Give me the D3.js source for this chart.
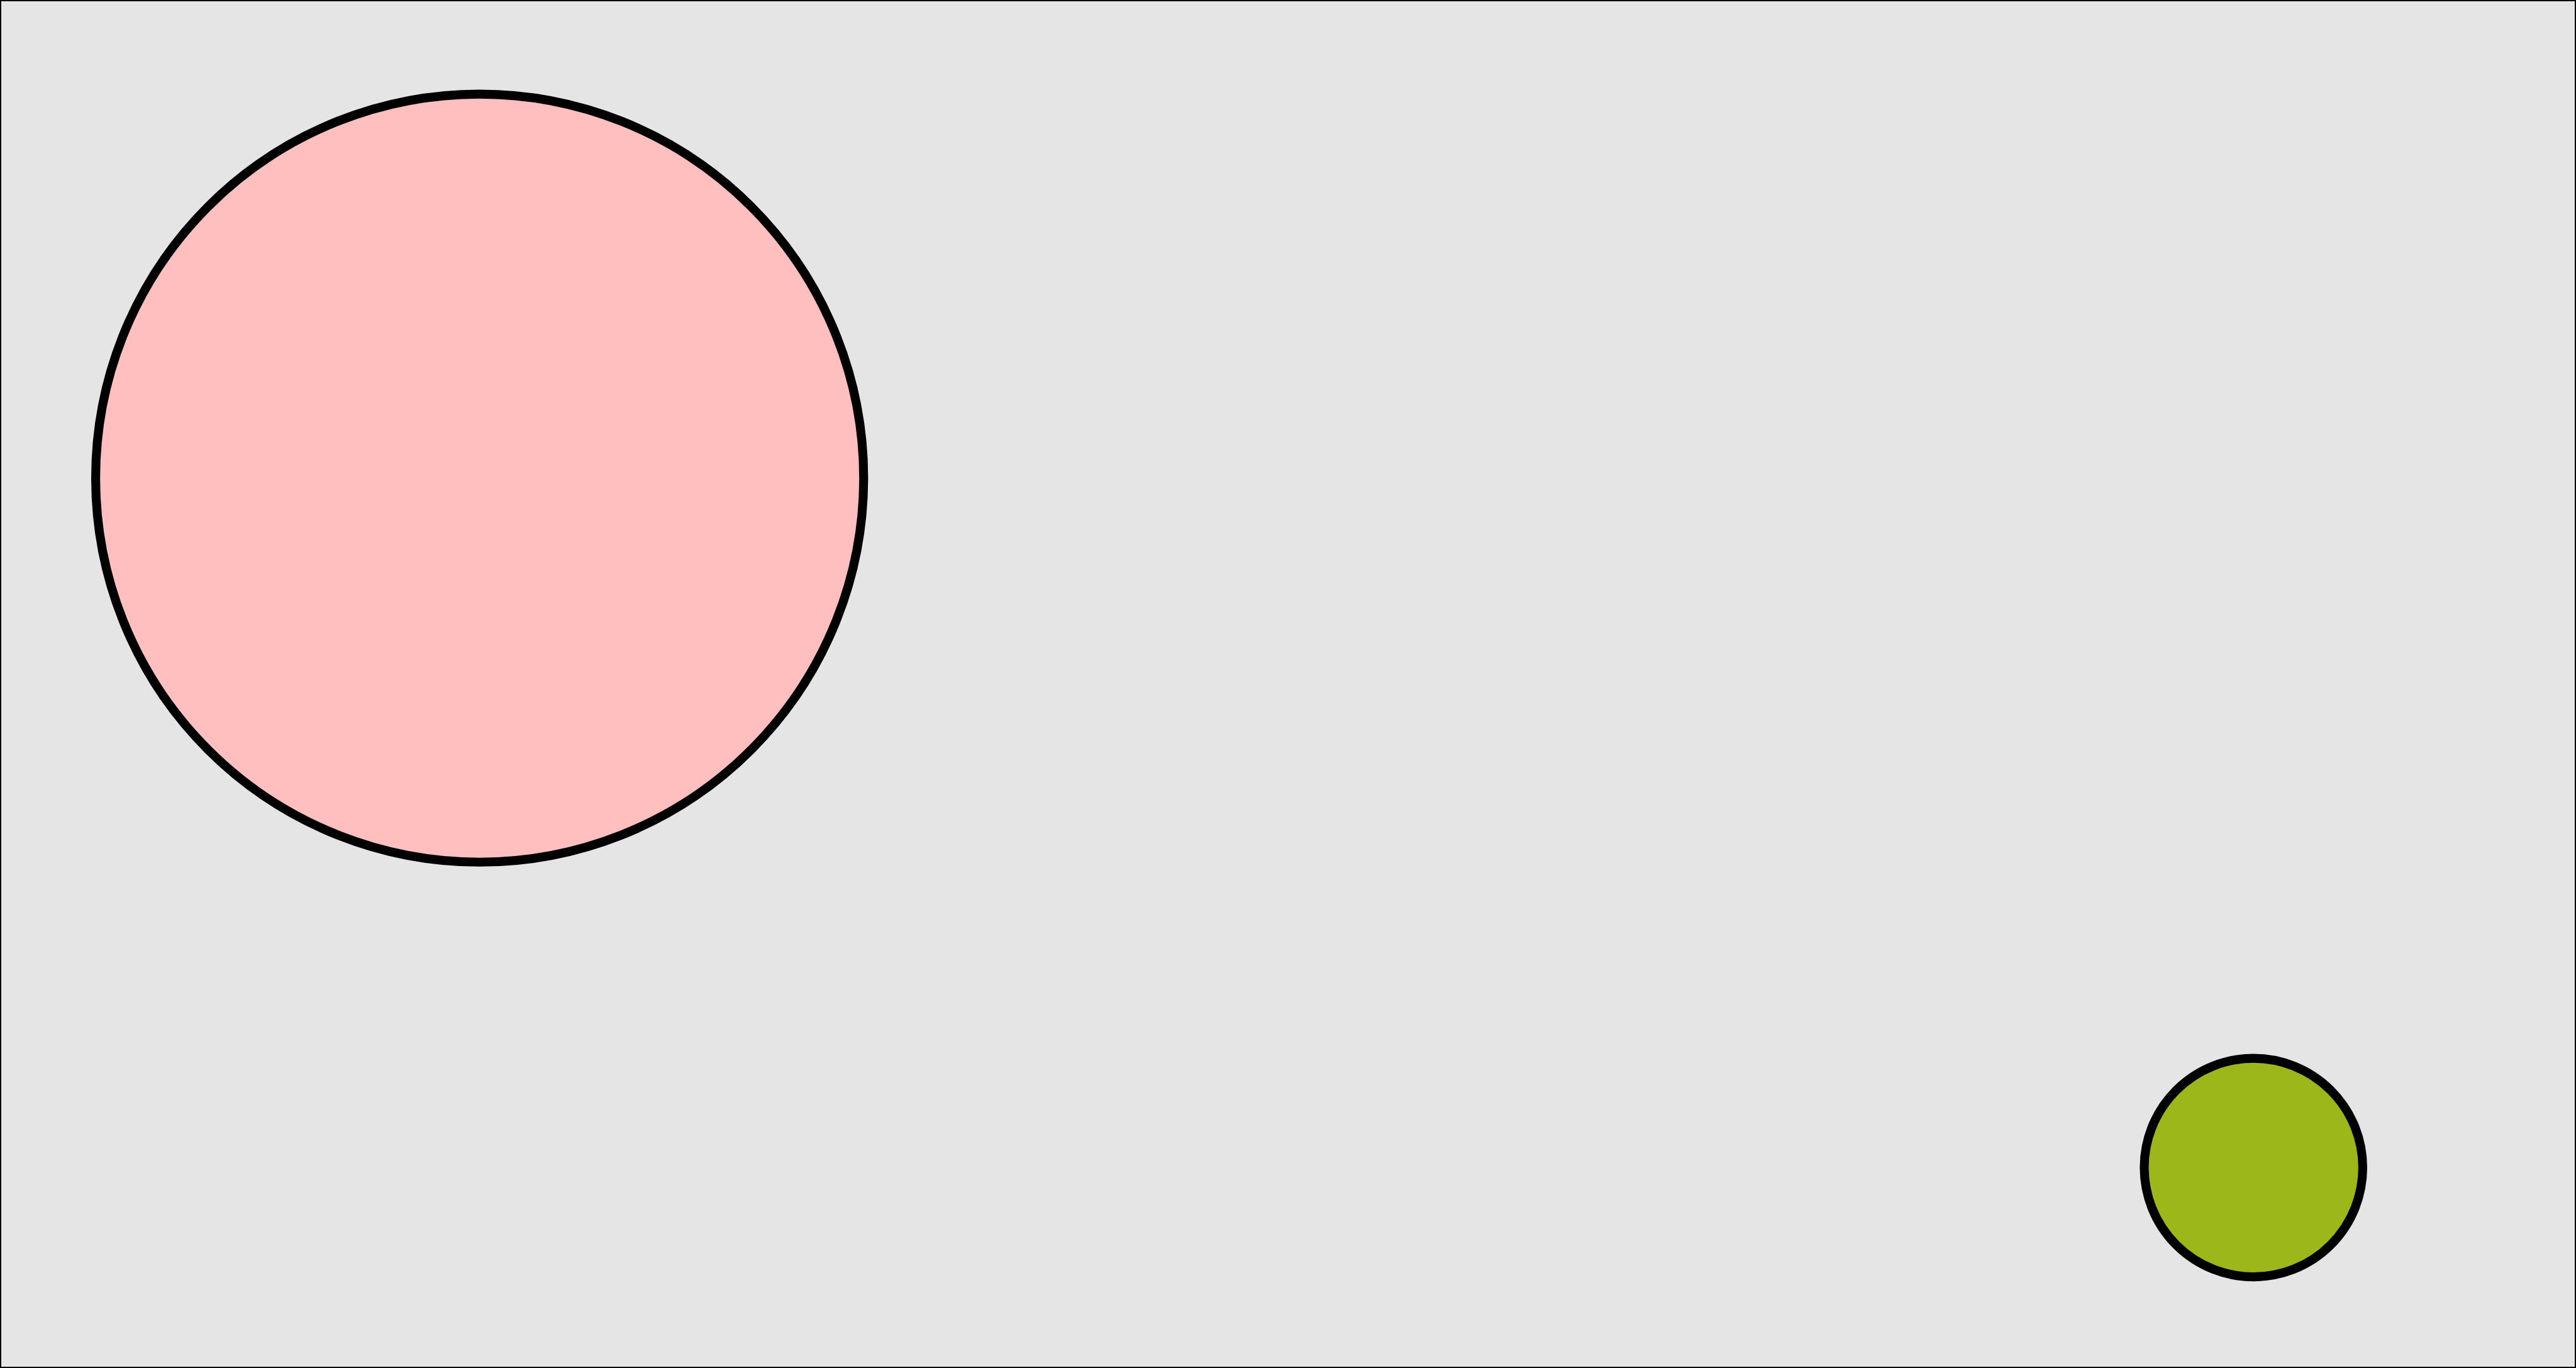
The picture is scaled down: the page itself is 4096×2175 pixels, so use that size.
<!DOCTYPE html>
<html>
<head>
<meta charset="utf-8">
<script src="https://cdn.jsdelivr.net/npm/d3@7/dist/d3.min.js"></script>
<style>
html,body{margin:0;padding:0;background:#e5e5e5;overflow:hidden;}
svg{display:block;}
</style>
</head>
<body>
<script>
const names = ["A", "B"];
const xValues = [18.62, 87.48];
const yValues = [34.95, 85.35];
const sizes = [949, 270];
const fills = ["#ffbfbf", "#9bb71a"];

const W = 4096, H = 2175, S = W / 6366;
const svg = d3.select("body").append("svg").attr("width", W).attr("height", H);

svg.append("rect").attr("x", 0).attr("y", 0).attr("width", W).attr("height", H).attr("fill", "#e5e5e5");

const x = d3.scaleLinear().domain([0, 100]).range([0, W]);
const y = d3.scaleLinear().domain([0, 100]).range([0, H]);
const r = d3.scaleLinear().domain([0, 1]).range([0, S]);

const data = names.map((n, i) => ({name: n, x: xValues[i], y: yValues[i], s: sizes[i], fill: fills[i]}));

svg.selectAll("circle.b").data(data).enter().append("circle")
  .attr("class", "b")
  .attr("cx", d => x(d.x))
  .attr("cy", d => y(d.y))
  .attr("r", d => r(d.s))
  .attr("fill", d => d.fill)
  .attr("stroke", "#000")
  .attr("stroke-width", 22 * S);

svg.append("rect").attr("x", 0.5).attr("y", 0.5).attr("width", W - 1).attr("height", H - 1)
  .attr("fill", "none").attr("stroke", "#000").attr("stroke-width", 3.5 * S * 2 > 3 ? 3 : 2);
</script>
</body>
</html>
